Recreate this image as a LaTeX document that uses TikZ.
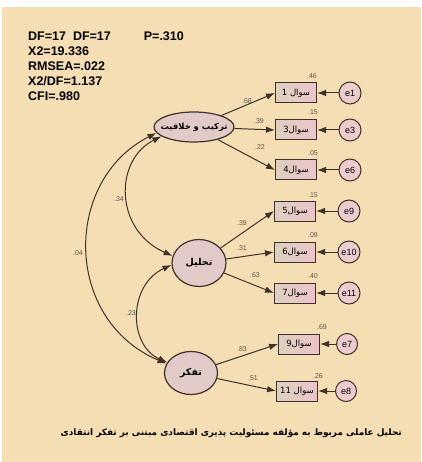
\documentclass[tikz,border=0pt]{standalone}
\usepackage{fontspec}
\setmainfont{Liberation Sans}
\newfontfamily\arabicfont[Script=Arabic]{DejaVu Sans}
\TeXXeTstate=1
\usetikzlibrary{shapes.geometric,arrows.meta}

\definecolor{bgwheat}{RGB}{246,222,180}
\definecolor{edgebrown}{RGB}{62,50,42}
\definecolor{factorfill}{RGB}{226,202,200}
\definecolor{itemleft}{RGB}{222,208,192}
\definecolor{itemright}{RGB}{236,196,202}
\definecolor{errfill}{RGB}{236,204,206}
\definecolor{coefgray}{RGB}{92,84,76}

% right-to-left Persian text
\newcommand{\fa}[1]{{\arabicfont\beginR #1\endR}}

\begin{document}
\begin{tikzpicture}[x=1pt,y=-1pt,
  factor/.style={ellipse, draw=edgebrown, line width=1.2pt, fill=factorfill,
    inner sep=0pt, font=\arabicfont\bfseries\fontsize{9.5}{10}\selectfont},
  item/.style={rectangle, draw=edgebrown, line width=1pt,
    left color=itemleft, right color=itemright,
    minimum width=41pt, minimum height=20pt, inner sep=0pt,
    font=\arabicfont\fontsize{8.5}{8.5}\selectfont},
  err/.style={circle, draw=edgebrown, line width=1pt, fill=errfill,
    minimum size=22pt, inner sep=0pt, font=\fontsize{9}{9}\selectfont},
  load/.style={draw=edgebrown, line width=1pt, -{Latex[length=9pt,width=6.5pt]}},
  cov/.style={draw=edgebrown, line width=1pt,
    {Latex[length=9pt,width=6.5pt]}-{Latex[length=9pt,width=6.5pt]}},
  coef/.style={font=\fontsize{7}{7}\selectfont, text=coefgray, inner sep=0pt}
]
% canvas
\fill[white] (0,0) rectangle (421,462);
\fill[bgwheat] (2,7) rectangle (421,462);
\useasboundingbox (0,0) rectangle (421,462);

% fit statistics
\node[anchor=north west, align=left, inner sep=0pt,
  font=\bfseries\fontsize{12.5}{14.8}\selectfont] (fit) at (28,32)
  {DF=17\ \ DF=17\hspace{33pt}P=.310\\X2=19.336\\RMSEA=.022\\X2/DF=1.137\\CFI=.980};

% latent factors
\node[factor, minimum width=80pt, minimum height=30pt,
  font=\arabicfont\bfseries\fontsize{8.4}{9}\selectfont] (f1) at (194,127) {\makebox[0pt]{\fa{ترکیب و خلاقیت}}};
\node[factor, minimum width=54pt, minimum height=47pt] (f2) at (199,263) {\fa{تحلیل}};
\node[factor, minimum width=53pt, minimum height=43pt] (f3) at (191,373) {\fa{تفکر}};

% observed items
\node[item] (b1) at (296,93)  {\fa{سوال \beginL 1\endL}};
\node[item] (b3) at (296,130) {\fa{سوال3}};
\node[item] (b4) at (296,170) {\fa{سوال4}};
\node[item] (b5) at (295,211) {\fa{سوال5}};
\node[item] (b6) at (295,252) {\fa{سوال6}};
\node[item] (b7) at (295,293) {\fa{سوال7}};
\node[item] (b9) at (299,344) {\fa{سوال9}};
\node[item] (b11) at (297,391) {\fa{سوال \beginL 11\endL}};

% error terms
\node[err] (e1)  at (350,93)  {e1};
\node[err] (e3)  at (350,130) {e3};
\node[err] (e6)  at (350,170) {e6};
\node[err] (e9)  at (349,211) {e9};
\node[err] (e10) at (349,252) {e10};
\node[err] (e11) at (349,293) {e11};
\node[err, minimum size=21pt] (e7) at (347,344) {e7};
\node[err, minimum size=21pt] (e8) at (346,391) {e8};

% factor loadings
\draw[load] (f1) -- (b1.west);
\draw[load] (f1) -- (b3.west);
\draw[load] (f1) -- (b4.west);
\draw[load] (f2) -- (b5.west);
\draw[load] (f2) -- (b6.west);
\draw[load] (f2) -- (b7.west);
\draw[load] (f3) -- (b9.west);
\draw[load] (f3) -- (b11.west);

% error paths
\foreach \e/\b in {e1/b1,e3/b3,e6/b4,e9/b5,e10/b6,e11/b7,e7/b9,e8/b11}
  \draw[load] (\e) -- (\b);

% factor covariances
\draw[cov] (f1.196) .. controls (114,160) and (114,230) .. (f2.165);
\draw[cov] (f1.189) .. controls (63,180) and (63,320) .. (f3.159);
\draw[cov] (f2.184) .. controls (128,285) and (128,345) .. (f3.156);

% coefficient labels
\node[coef] (c68) at (247,101) {.68};
\node[coef] (c39a) at (259,121) {.39};
\node[coef] (c22) at (260,147) {.22};
\node[coef] (c39b) at (242,223) {.39};
\node[coef] (c31) at (242,248) {.31};
\node[coef] (c63) at (255,275) {.63};
\node[coef] (c83) at (242,349) {.83};
\node[coef] (c51) at (253,378) {.51};
\node[coef] (r46) at (312,76)  {.46};
\node[coef] (r15a) at (313,112) {.15};
\node[coef] (r05) at (313,153) {.05};
\node[coef] (r15b) at (313,195) {.15};
\node[coef] (r09) at (313,235) {.09};
\node[coef] (r40) at (313,276) {.40};
\node[coef] (r69) at (322,327) {.69};
\node[coef] (r26) at (318,376) {.26};
\node[coef] (k34) at (119,199) {.34};
\node[coef] (k04) at (78,253)  {.04};
\node[coef] (k23) at (131,313) {.23};

% caption
\node[anchor=east, inner sep=0pt, font=\arabicfont\bfseries\fontsize{8.9}{10}\selectfont] (cap) at (402,433)
  {\beginR تحلیل عاملی مربوط به مؤلفه مسئولیت پذیری اقتصادی مبتنی بر تفکر انتقادی\endR};
\end{tikzpicture}
\end{document}
